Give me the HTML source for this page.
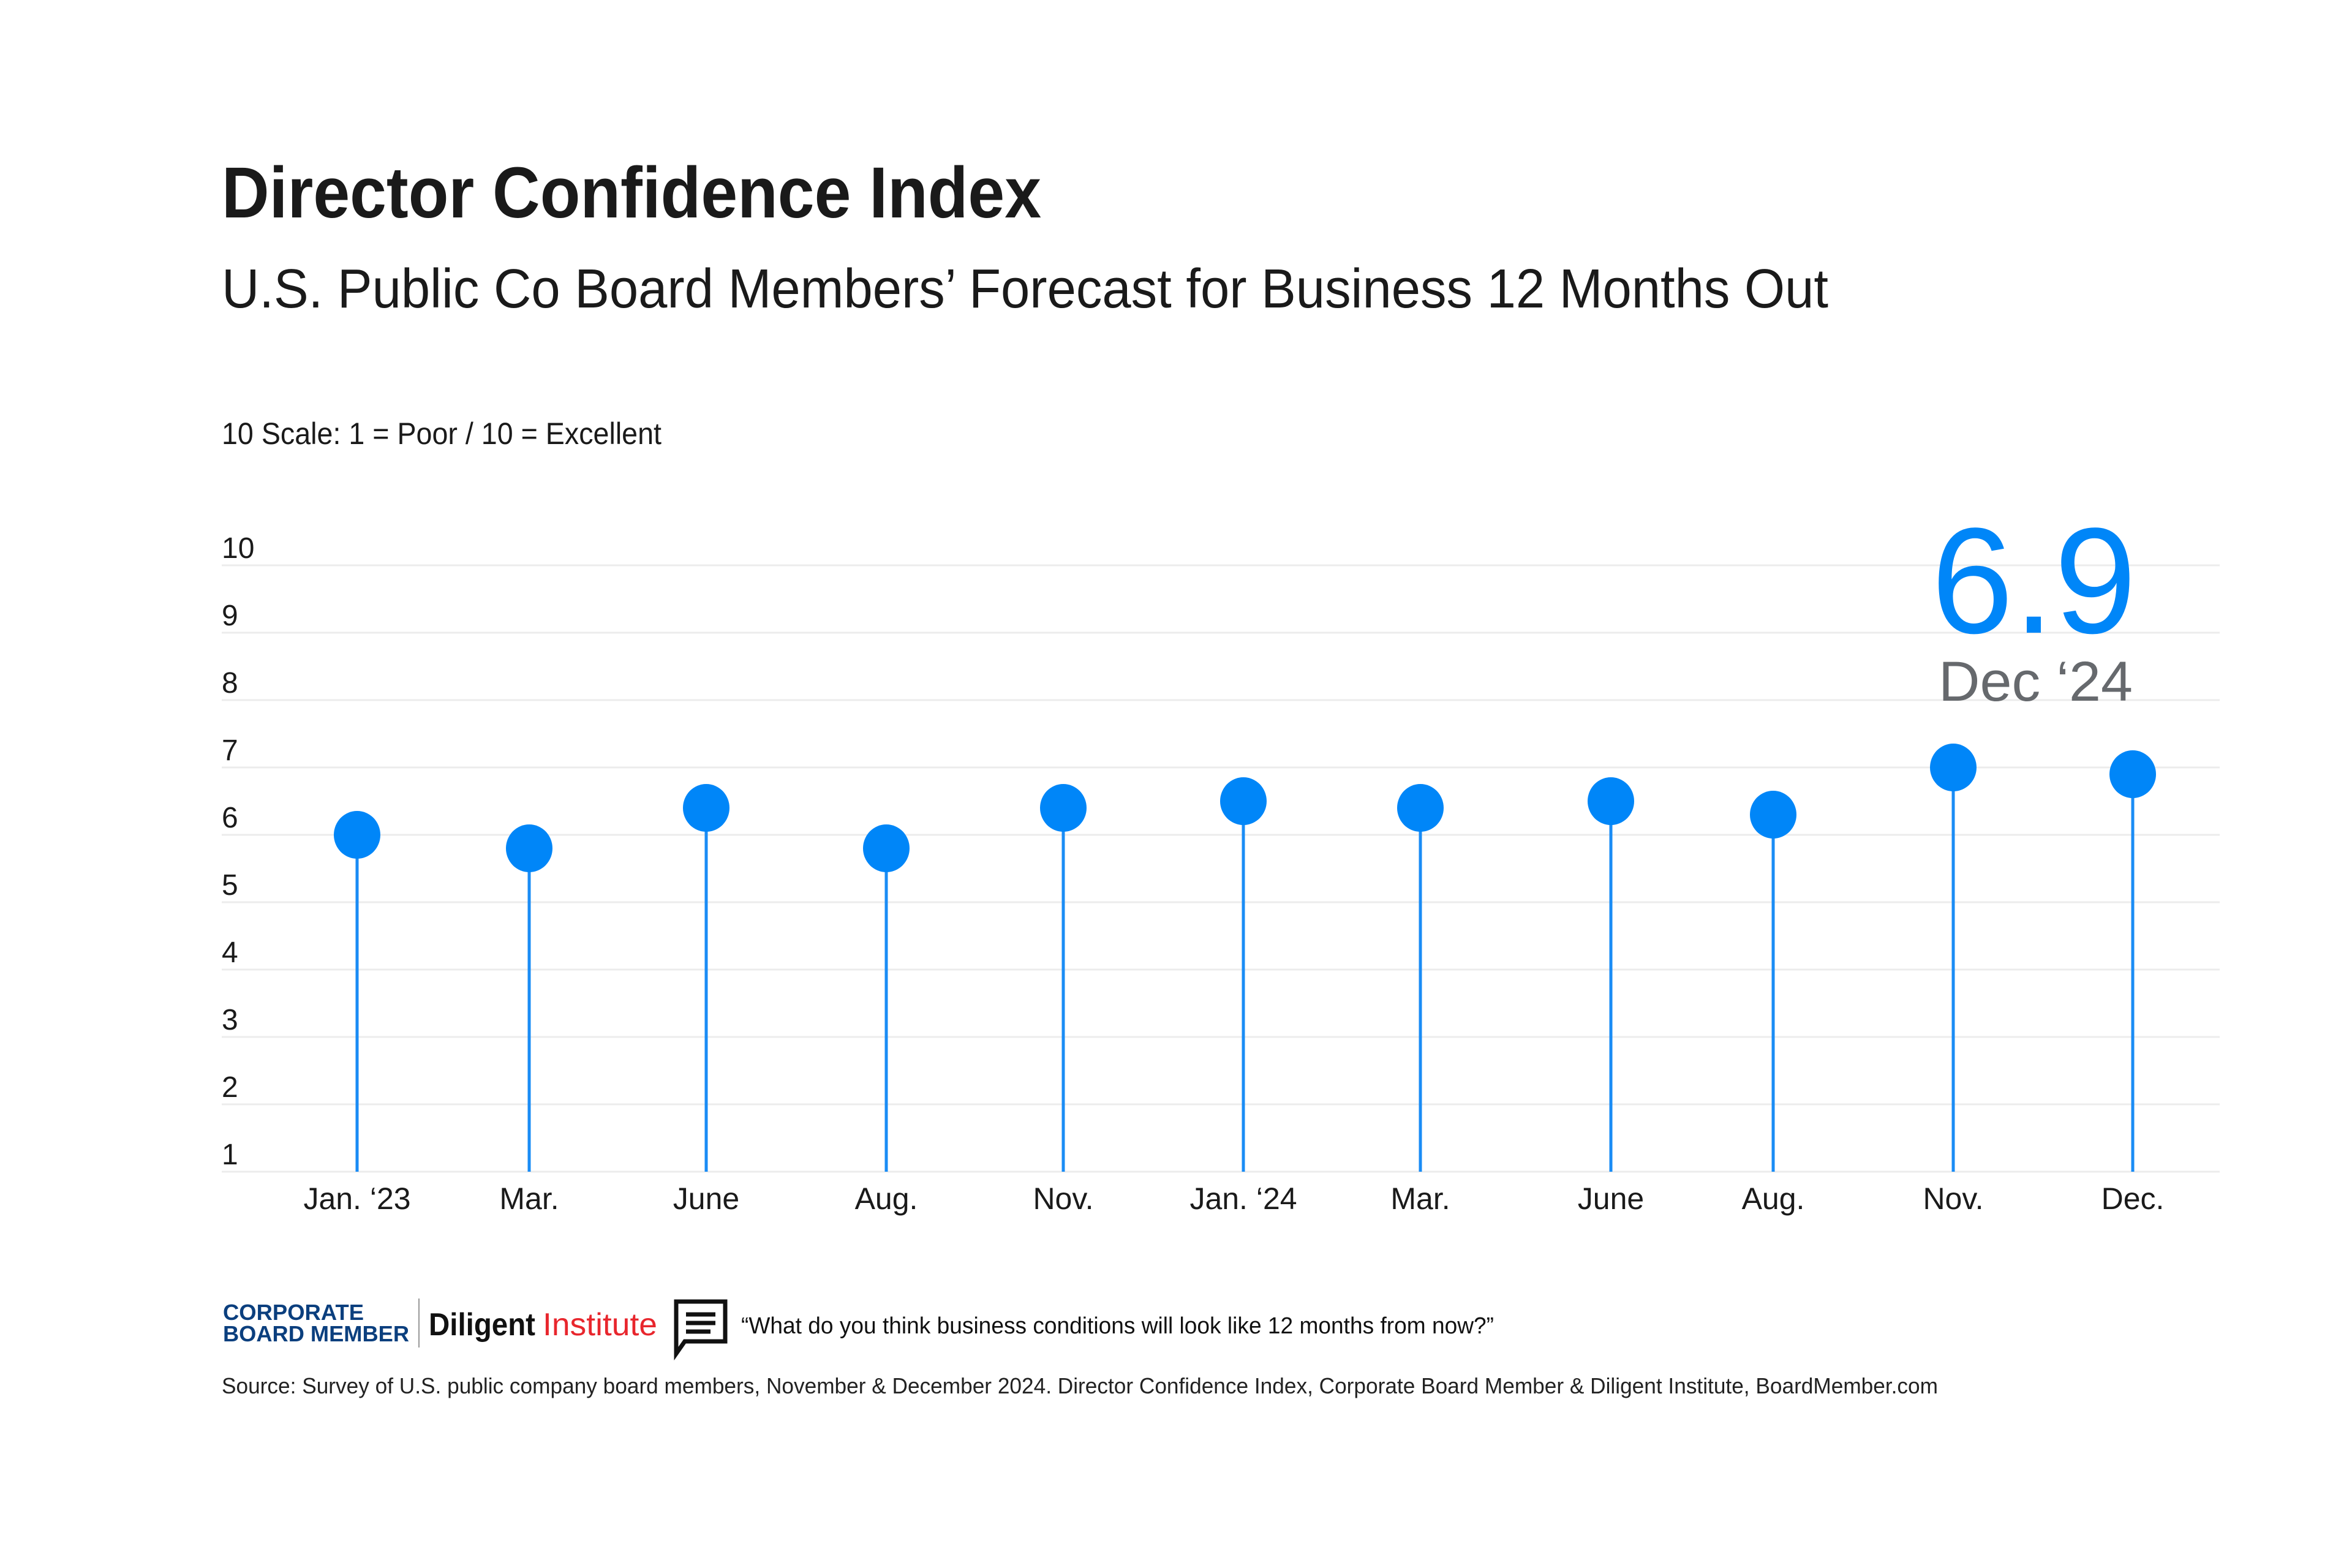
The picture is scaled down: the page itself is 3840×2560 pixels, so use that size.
<!DOCTYPE html>
<html><head><meta charset="utf-8"><style>
html,body{margin:0;padding:0;background:#fff}
svg{display:block}
text{font-family:"Liberation Sans",sans-serif}
</style></head><body>
<svg id="chart" width="3840" height="2560" viewBox="0 0 3840 2560" xmlns="http://www.w3.org/2000/svg">
<rect width="3840" height="2560" fill="#fff"/>
<text x="362" y="355" font-size="118" font-weight="bold" fill="#1a1a1a" textLength="1338" lengthAdjust="spacingAndGlyphs">Director Confidence Index</text>
<text x="362" y="502" font-size="90" fill="#1a1a1a" textLength="2623" lengthAdjust="spacingAndGlyphs">U.S. Public Co Board Members’ Forecast for Business 12 Months Out</text>
<text x="362" y="725" font-size="50" fill="#1a1a1a" textLength="718" lengthAdjust="spacingAndGlyphs">10 Scale: 1 = Poor / 10 = Excellent</text>
<g id="grid"></g>
<g id="yticks"></g>
<g id="marks"></g>
<g id="xticks"></g>
<text x="3488" y="1033" font-size="246" fill="#0086f8" text-anchor="end" textLength="335" lengthAdjust="spacingAndGlyphs">6.9</text>
<text x="3482" y="1144" font-size="92" fill="#66696d" text-anchor="end" textLength="317" lengthAdjust="spacingAndGlyphs">Dec ‘24</text>
<g>
<text x="364" y="2155" font-size="36" font-weight="bold" fill="#0b3f7e" textLength="230" lengthAdjust="spacingAndGlyphs">CORPORATE</text>
<text x="364" y="2190" font-size="36" font-weight="bold" fill="#0b3f7e" textLength="304" lengthAdjust="spacingAndGlyphs">BOARD MEMBER</text>
<rect x="683" y="2120" width="2" height="80" fill="#999"/>
<text x="700" y="2180" font-size="52" font-weight="bold" fill="#111" textLength="174" lengthAdjust="spacingAndGlyphs">Diligent</text>
<text x="886" y="2180" font-size="52" fill="#e8262d" textLength="187" lengthAdjust="spacingAndGlyphs">Institute</text>
<g fill="none" stroke="#111" stroke-width="7">
<path d="M1104 2125 H1184 V2190 H1118 L1104 2210 Z"/>
<line x1="1120" y1="2146" x2="1168" y2="2146"/><line x1="1120" y1="2160" x2="1168" y2="2160"/><line x1="1120" y1="2174" x2="1160" y2="2174"/>
</g>
<text x="1210" y="2177" font-size="38" fill="#111" textLength="1229" lengthAdjust="spacingAndGlyphs">“What do you think business conditions will look like 12 months from now?”</text>
<text x="362" y="2275" font-size="36" fill="#222" textLength="2802" lengthAdjust="spacingAndGlyphs">Source: Survey of U.S. public company board members, November &amp; December 2024. Director Confidence Index, Corporate Board Member &amp; Diligent Institute, BoardMember.com</text>
</g>
</svg>
<script>
const categories = ["Jan. ‘23","Mar.","June","Aug.","Nov.","Jan. ‘24","Mar.","June","Aug.","Nov.","Dec."];
const values = [6.0,5.8,6.4,5.8,6.4,6.5,6.4,6.5,6.3,7.0,6.9];
const yTicks = [1,2,3,4,5,6,7,8,9,10];
const xCenters = [583,864,1153,1447,1736,2030,2319,2630,2895,3189,3482];
const NS="http://www.w3.org/2000/svg";
const yMin=1,yMax=10,yBottom=1913,yTop=923;
function yScale(v){return yBottom-(v-yMin)/(yMax-yMin)*(yBottom-yTop);}
function xScale(i){return xCenters[i];}
function mk(tag,attrs,parent){const e=document.createElementNS(NS,tag);for(const k in attrs)e.setAttribute(k,attrs[k]);parent.appendChild(e);return e;}
const grid=document.getElementById('grid'),yt=document.getElementById('yticks'),marks=document.getElementById('marks'),xt=document.getElementById('xticks');
yTicks.forEach(t=>{
  const y=yScale(t);
  const l=mk('line',{x1:362,x2:3624,y1:y,y2:y,stroke:'#ececec','stroke-width':3},grid);
  
  
  const tx=mk('text',{x:362,y:y-12,'font-size':48,fill:'#1a1a1a'},yt);
  tx.textContent=t;
  
  
});
values.forEach((v,i)=>{
  const x=xScale(i),y=yScale(v);
  const s=mk('line',{x1:x,x2:x,y1:y,y2:yBottom,stroke:'#1a8cf5','stroke-width':5},marks);
  
  
  const c=mk('ellipse',{cx:x,cy:y,rx:38,ry:39,fill:'#0086f8'},marks);
  
  
  const tx=mk('text',{x:x,y:1974,'font-size':50,fill:'#1a1a1a','text-anchor':'middle'},xt);
  tx.textContent=categories[i];
  
  
});
</script>
</body></html>
